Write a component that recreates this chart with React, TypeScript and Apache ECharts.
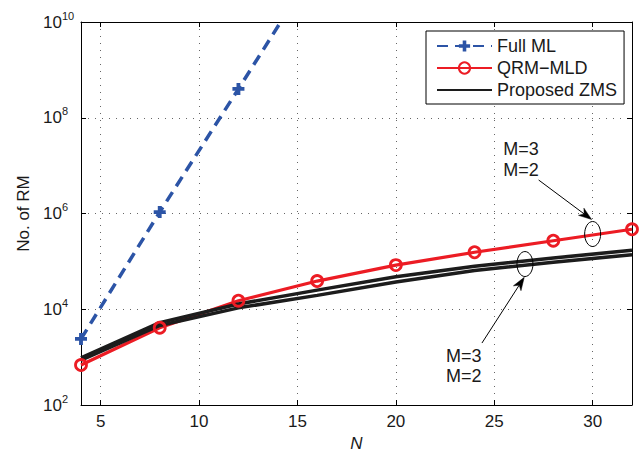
import React, { useEffect, useRef } from 'react';
import * as echarts from 'echarts';

// ---- data ----
const nValues = [4, 8, 12, 16, 20, 24, 28, 32];
const fullMLN = [4, 8, 12, 16];
const fullML = [2400, 1.07e6, 4.0e8, 1.6e11];
const qrmMLD = [684, 4120, 15100, 38800, 83600, 155000, 270000, 468000];
const zmsM3 = [970, 5250, 12900, 25100, 47800, 79400, 118000, 170000];
const zmsM2 = [865, 4590, 10700, 19500, 37200, 64700, 96000, 138000];
const xTicks = [5, 10, 15, 20, 25, 30];
const legendNames = ['Full ML', 'QRM\u2212MLD', 'Proposed ZMS'];
const annoLabels = ['M=3', 'M=2'];
// annotation ellipse centres in data space [N, value]
const annoRed = [30, 3.73e5];
const annoBlack = [26.56, 8.8e4];

const FONT = '"Liberation Sans", Arial, Helvetica, sans-serif';
const TXT = '#1a1a1a';
const BLUE = '#2c54a6';
const RED = '#ec1c24';
const BLACK = '#1c1c1c';

function arrow(x1: number, y1: number, x2: number, y2: number) {
  const dx = x2 - x1, dy = y2 - y1;
  const L = Math.sqrt(dx * dx + dy * dy);
  const ux = dx / L, uy = dy / L;
  const px = -uy, py = ux;
  const h = 13, w = 4.5;
  const bx = x2 - ux * h, by = y2 - uy * h;
  const nx = x2 - ux * h * 0.72, ny = y2 - uy * h * 0.72;
  return [
    { type: 'line', z: 100, shape: { x1, y1, x2: nx, y2: ny }, style: { stroke: '#000', lineWidth: 1 } },
    {
      type: 'polygon', z: 100,
      shape: { points: [[x2, y2], [bx + px * w, by + py * w], [nx, ny], [bx - px * w, by - py * w]] },
      style: { fill: '#000', stroke: '#000', lineWidth: 0.5 },
    },
  ];
}

export default function App() {
  const ref = useRef<HTMLDivElement>(null);
  useEffect(() => {
    if (!ref.current) return;
    const chart = echarts.init(ref.current, undefined, { renderer: 'svg' });
    const gridSplit = { show: true, lineStyle: { color: '#666', width: 1, type: [1, 6] as any } };
    const yLog = { type: 'log', logBase: 100, min: 100, max: 1e10 };
    chart.setOption({
      animation: false,
      backgroundColor: '#fff',
      textStyle: { fontFamily: FONT },
      grid: { left: 81, right: 9, top: 22, bottom: 45, containLabel: false, outerBoundsMode: 'none' },
      legend: {
        data: [
          legendNames[0],
          legendNames[1],
          { name: legendNames[2], itemStyle: { opacity: 0 } },
        ],
        orient: 'vertical',
        left: 426,
        top: 31,
        padding: [6, 7, 5, 10],
        itemWidth: 55,
        itemHeight: 14,
        itemGap: 4,
        borderColor: '#000',
        borderWidth: 1,
        backgroundColor: '#fff',
        textStyle: { fontSize: 18, lineHeight: 18, color: TXT, fontFamily: FONT },
      },
      xAxis: [
        {
          type: 'value', min: 4, max: 32, position: 'bottom',
          name: 'N', nameLocation: 'middle', nameGap: 24,
          nameTextStyle: { fontSize: 17, lineHeight: 17, fontStyle: 'italic', color: TXT, fontFamily: FONT },
          axisLine: { show: true, onZero: false, lineStyle: { color: '#000', width: 1 } },
          axisTick: { show: true, inside: true, length: 5, customValues: xTicks, lineStyle: { color: '#000' } },
          axisLabel: { customValues: xTicks, fontSize: 17, color: TXT, margin: 8, fontFamily: FONT },
          splitLine: gridSplit,
        },
        {
          type: 'value', min: 4, max: 32, position: 'top',
          axisLine: { show: true, onZero: false, lineStyle: { color: '#000', width: 1 } },
          axisTick: { show: true, inside: true, length: 5, customValues: xTicks, lineStyle: { color: '#000' } },
          axisLabel: { show: false },
          splitLine: { show: false },
        },
      ],
      yAxis: [
        {
          ...yLog, position: 'left',
          name: 'No. of RM', nameLocation: 'middle', nameGap: 48, nameRotate: 90,
          nameTextStyle: { fontSize: 17, color: TXT, fontFamily: FONT },
          axisLine: { show: true, onZero: false, lineStyle: { color: '#000', width: 1 } },
          axisTick: { show: true, inside: true, length: 5, lineStyle: { color: '#000' } },
          axisLabel: {
            align: 'left', margin: 38,
            formatter: (v: number) => `{b|10}{s|${Math.round(Math.log10(v))}}`,
            rich: {
              b: { fontSize: 17, lineHeight: 24, color: TXT, fontFamily: FONT },
              s: { fontSize: 11, lineHeight: 8, verticalAlign: 'top', color: TXT, fontFamily: FONT },
            },
          },
          splitLine: gridSplit,
        },
        {
          ...yLog, position: 'right',
          axisLine: { show: true, onZero: false, lineStyle: { color: '#000', width: 1 } },
          axisTick: { show: true, inside: true, length: 5, lineStyle: { color: '#000' } },
          axisLabel: { show: false },
          splitLine: { show: false },
        },
      ],
      series: [
        {
          name: legendNames[0], type: 'line', clip: true,
          data: fullMLN.map((n, i) => [n, fullML[i]]),
          symbol: 'path://M3.4,0H6.6V3.4H10V6.6H6.6V10H3.4V6.6H0V3.4H3.4Z',
          symbolSize: 12,
          itemStyle: { color: BLUE },
          lineStyle: { color: BLUE, width: 3.5, type: [11, 7] as any },
        },
        {
          name: legendNames[1], type: 'line', clip: true,
          data: nValues.map((n, i) => [n, qrmMLD[i]]),
          symbol: 'circle', symbolSize: 11,
          itemStyle: { color: 'rgba(255,255,255,0)', borderColor: RED, borderWidth: 2.8 },
          lineStyle: { color: RED, width: 3.2 },
        },
        {
          name: legendNames[2], type: 'line', clip: true,
          data: nValues.map((n, i) => [n, zmsM3[i]]),
          symbol: 'none',
          itemStyle: { color: BLACK },
          lineStyle: { color: BLACK, width: 3.5 },
        },
        {
          name: legendNames[2], type: 'line', clip: true,
          data: nValues.map((n, i) => [n, zmsM2[i]]),
          symbol: 'none',
          itemStyle: { color: BLACK },
          lineStyle: { color: BLACK, width: 3.5 },
        },
      ],
    });

    const c1 = chart.convertToPixel({ seriesIndex: 1 }, annoRed) as number[];
    const c2 = chart.convertToPixel({ seriesIndex: 1 }, annoBlack) as number[];
    const rx = 8, ry = 12.5;
    const textStyle = (t: string) => ({ text: t, fontSize: 18, fontFamily: FONT, fill: TXT, verticalAlign: 'middle', align: 'left' });
    const graphics: any[] = [
      { type: 'ellipse', z: 100, shape: { cx: c1[0], cy: c1[1], rx, ry }, style: { fill: 'none', stroke: '#000', lineWidth: 1 } },
      { type: 'ellipse', z: 100, shape: { cx: c2[0], cy: c2[1], rx, ry }, style: { fill: 'none', stroke: '#000', lineWidth: 1 } },
      ...arrow(c1[0] - 54, c1[1] - 54, c1[0] - 1, c1[1] - 14.5),
      ...arrow(c2[0] - 43, c2[1] + 79, c2[0] - 0.7, c2[1] + 13.3),
      { type: 'text', z: 100, x: c1[0] - 89.5, y: c1[1] - 85, style: textStyle(annoLabels[0]) },
      { type: 'text', z: 100, x: c1[0] - 89.5, y: c1[1] - 64, style: textStyle(annoLabels[1]) },
      { type: 'text', z: 100, x: c2[0] - 79, y: c2[1] + 92, style: textStyle(annoLabels[0]) },
      { type: 'text', z: 100, x: c2[0] - 79, y: c2[1] + 112, style: textStyle(annoLabels[1]) },
    ];
    chart.setOption({ graphic: graphics });

    return () => chart.dispose();
  }, []);
  return <div ref={ref} style={{ position: 'absolute', left: 0, top: 0, width: 641, height: 450 }} />;
}
